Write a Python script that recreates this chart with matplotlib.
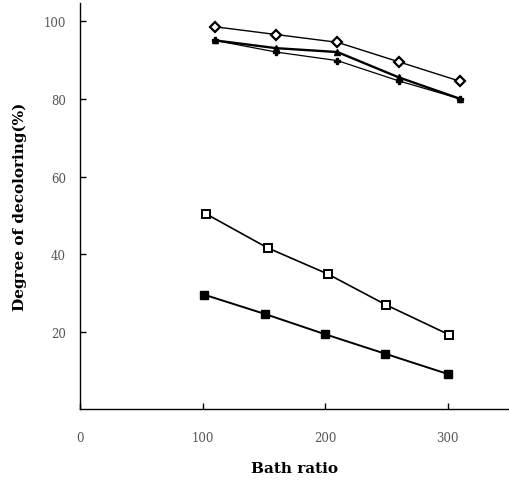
import matplotlib
matplotlib.use("Agg")
import matplotlib.pyplot as plt

# Data
x_diamond = [110, 160, 210, 260, 310]
y_diamond = [98.5, 96.5, 94.5, 89.5, 84.5]

x_tri = [110, 160, 210, 260, 310]
y_tri = [95, 93, 92, 85.5, 80]

x_plus = [110, 160, 210, 260, 310]
y_plus = [95, 92, 89.8, 84.6, 80]

x_open_sq = [103, 153, 202, 250, 301]
y_open_sq = [50.4, 41.7, 35, 27, 19.4]

x_fill_sq = [101, 151, 200, 249, 300]
y_fill_sq = [29.7, 24.7, 19.5, 14.5, 9.3]

xticks = [0, 100, 200, 300]
yticks = [20, 40, 60, 80, 100]

fig = plt.figure(figsize=(5.09, 4.81), dpi=100)
ax = fig.add_axes([80/509, 1-410/481, 1-80/509, (410-4)/481])

ax.plot(x_diamond, y_diamond, color='black', lw=1.0, marker='D', ms=5.5,
        mfc='white', mec='black', mew=1.6)
ax.plot(x_plus, y_plus, color='black', lw=0.9, marker='P', ms=4.5,
        mfc='black', mec='black')
ax.plot(x_tri, y_tri, color='black', lw=1.7, marker='^', ms=4.5,
        mfc='black', mec='black')
ax.plot(x_open_sq, y_open_sq, color='black', lw=1.2, marker='s', ms=5.5,
        mfc='white', mec='black', mew=1.4)
ax.plot(x_fill_sq, y_fill_sq, color='black', lw=1.4, marker='s', ms=5.5,
        mfc='black', mec='black')

ax.set_xlim(0, 350)
ax.set_ylim(0.3, 104.6)
ax.set_xticks(xticks)
ax.set_yticks(yticks)
ax.spines['top'].set_visible(False)
ax.spines['right'].set_visible(False)
ax.spines['left'].set_linewidth(1.0)
ax.spines['bottom'].set_linewidth(1.0)
ax.tick_params(axis='both', direction='in', length=4, width=1,
               labelsize=8.5, labelcolor='#555555')
ax.tick_params(axis='x', pad=16)
ax.tick_params(axis='y', pad=10)
for lab in ax.get_xticklabels() + ax.get_yticklabels():
    lab.set_family('DejaVu Serif')

ax.set_xlabel('Bath ratio', fontsize=11, fontweight='bold',
              family='DejaVu Serif', labelpad=12)
ax.set_ylabel('Degree of decoloring(%)', fontsize=11, fontweight='bold',
              family='DejaVu Serif', labelpad=12)

fig.savefig('out.png', dpi=100)
